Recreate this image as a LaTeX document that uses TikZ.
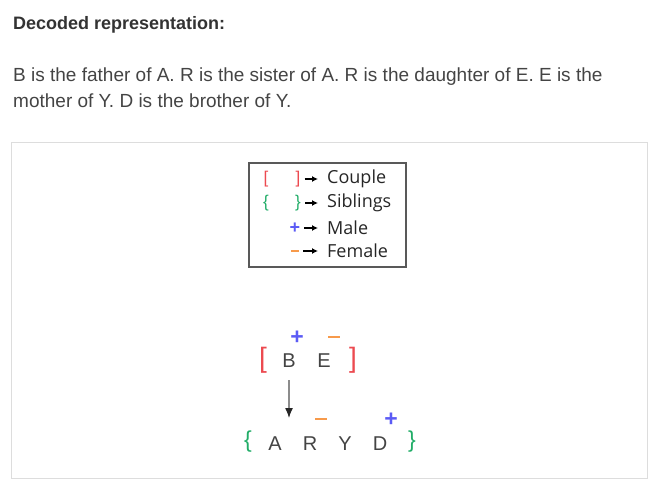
\documentclass[tikz,border=0pt]{standalone}
\usepackage{fontspec}
\setmainfont{Liberation Sans}
\newfontfamily\legendfont{Open Sans}
\usetikzlibrary{positioning, arrows.meta}
\definecolor{textgrey}{HTML}{444444}
\definecolor{couplered}{HTML}{EC4A50}
\definecolor{siblinggreen}{HTML}{22AD68}
\definecolor{maleblue}{HTML}{5B5BF5}
\definecolor{femaleorange}{HTML}{F79A4B}
\definecolor{framegrey}{HTML}{DDDDDD}

\tikzset{
  person/.style={inner sep=0pt, text=textgrey, font=\fontsize{20}{20}\selectfont},
  bracket/.style={inner sep=0pt, font=\fontsize{28}{28}\selectfont},
  sign/.style={inner sep=0pt, font=\bfseries\fontsize{23}{23}\selectfont},
  legendsym/.style={inner sep=0pt, font=\fontsize{17}{17}\selectfont},
  legendtext/.style={inner sep=0pt, anchor=west, text=black!85, font=\legendfont\fontsize{18}{18}\selectfont},
  legendarrow/.style={-{Latex[length=6pt,width=6pt]}, line width=1.4pt, shorten <=4pt, shorten >=9pt},
  kidarrow/.style={draw=black!45, line width=1.3pt, -{Latex[length=10pt,width=8pt,color=black!85]}, shorten <=12pt}
}
\newcommand{\minusbar}[1]{\rule{#1}{2.6pt}}

\begin{document}
\begin{tikzpicture}[x=1pt,y=-1pt,node distance=35pt,on grid]
\useasboundingbox (0,0) rectangle (662,490);

% header text
\node[anchor=base west, inner sep=0pt, text=black!80, font=\bfseries\fontsize{18}{18}\selectfont] (title) at (13,29) {Decoded representation:};
\node[anchor=base west, inner sep=0pt, text=textgrey, font=\fontsize{19}{19}\selectfont] (line1) at (13,81) {B is the father of A. R is the sister of A. R is the daughter of E. E is the};
\node[anchor=base west, inner sep=0pt, text=textgrey, font=\fontsize{19}{19}\selectfont] (line2) at (13,107) {mother of Y. D is the brother of Y.};

% frames
\draw[framegrey, line width=1pt] (11,142) rectangle (647,478);
\draw[black!65, line width=1.2pt] (249,163) rectangle (406,267);

% legend
\node[legendsym, text=couplered] (cpl) at (266,179) {[};
\node[legendsym, text=couplered] (cpr) at (298,179) {]};
\node[legendtext] (cpt) at (327,179) {Couple};
\node[legendsym, text=siblinggreen] (sbl) at (266,203) {\{};
\node[legendsym, text=siblinggreen] (sbr) at (298,203) {\}};
\node[legendtext] (sbt) at (327,203) {Siblings};
\node[legendsym, text=maleblue, font=\bfseries\fontsize{18}{18}\selectfont] (mal) at (295,228) {+};
\node[legendtext] (malt) at (327,228) {Male};
\node[legendsym, text=femaleorange] (fem) at (295,251) {\minusbar{8pt}};
\node[legendtext] (femt) at (327,251) {Female};

\draw[legendarrow] (cpr.east) -- (cpt.west);
\draw[legendarrow] (sbr.east) -- (sbt.west);
\draw[legendarrow] (mal.east) -- (malt.west);
\draw[legendarrow] (fem.east) -- (femt.west);

% parents
\node[person] (B) at (289,361) {B};
\node[person] (E) [right=of B] {E};
\node[bracket, text=couplered] (pl) at (263,360) {[};
\node[bracket, text=couplered] (pr) at (353,360) {]};
\node[sign, text=maleblue] (Bs) [above right=23pt and 8pt of B] {+};
\node[sign, text=femaleorange] (Es) [above right=24pt and 10pt of E] {\minusbar{12pt}};

% children
\node[person] (A) at (275,444) {A};
\node[person] (R) [right=of A] {R};
\node[person] (Y) [right=of R] {Y};
\node[person] (D) [right=of Y] {D};
\node[bracket, text=siblinggreen, font=\fontsize{23}{23}\selectfont] (cl) at (248,442) {\{};
\node[bracket, text=siblinggreen, font=\fontsize{23}{23}\selectfont] (cr) at (412,442) {\}};
\node[sign, text=femaleorange] (Rs) [above right=25pt and 11pt of R] {\minusbar{12pt}};
\node[sign, text=maleblue] (Ds) [above right=24pt and 11pt of D] {+};

\coordinate (kid) at (289,418);
\draw[kidarrow] (B.south) -- (kid);
\end{tikzpicture}
\end{document}
